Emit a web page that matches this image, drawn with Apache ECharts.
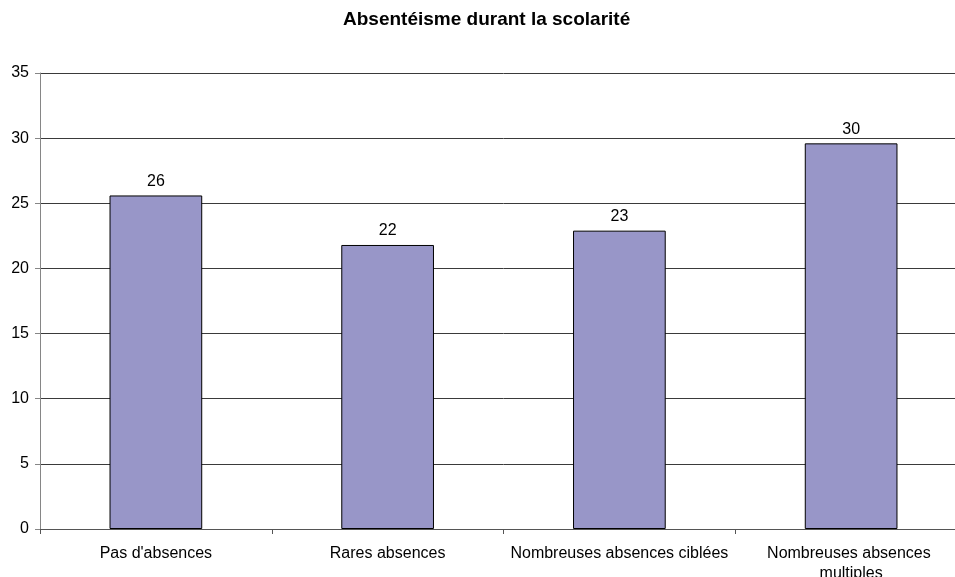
<!DOCTYPE html>
<html>
<head>
<meta charset="utf-8">
<script src="https://cdn.jsdelivr.net/npm/echarts@6/dist/echarts.min.js"></script>
<style>
  html, body { margin: 0; padding: 0; background: #fff; overflow: hidden; }
  /* the original plot runs past the right edge of the picture */
  #chart { width: 967px; height: 577px; }
</style>
</head>
<body>
<div id="chart"></div>
<script>
const titleText = 'Absentéisme durant la scolarité'
const categories = ['Pas d\'absences', 'Rares absences', 'Nombreuses absences ciblées', 'Nombreuses absences multiples']
const values = [25.6, 21.8, 22.9, 29.6]

const chartInst = echarts.init(document.getElementById('chart'))
const font = "'Liberation Sans', Arial, sans-serif"

const option = {
  animation: false,
  backgroundColor: '#fff',
  title: {
    text: titleText,
    left: 338,
    top: 5,
    textStyle: { fontFamily: font, fontSize: 19, fontWeight: 'bold', color: '#000' }
  },
  // labels may run off the bottom edge, as in the original
  grid: { left: 40, right: 0, top: 73, bottom: 48, outerBoundsMode: 'none', containLabel: false },
  xAxis: {
    type: 'category',
    data: categories,
    axisLine: { lineStyle: { color: '#555', width: 1 } },
    axisTick: { show: true, length: 5, lineStyle: { color: '#555' } },
    axisLabel: {
      interval: 0,
      margin: 15,
      width: 228,
      overflow: 'break',
      lineHeight: 20,
      fontFamily: font,
      fontSize: 16,
      color: '#000'
    }
  },
  yAxis: {
    type: 'value',
    min: 0,
    max: 35,
    interval: 5,
    axisLine: { show: true, lineStyle: { color: '#868686' } },
    axisTick: { show: true, length: 5, lineStyle: { color: '#868686' } },
    axisLabel: { margin: 11, fontFamily: font, fontSize: 16, color: '#000' },
    splitLine: { lineStyle: { color: '#3a3a3a', width: 1 } }
  },
  series: [
    {
      type: 'bar',
      data: values,
      barWidth: '40%',
      itemStyle: { color: '#9896c8', borderColor: '#000', borderWidth: 1 },
      label: {
        show: true,
        position: 'top',
        distance: 6,
        fontFamily: font,
        fontSize: 16,
        color: '#000',
        formatter: (p) => Math.round(p.value)
      }
    }
  ]
}

chartInst.setOption(option)
</script>
</body>
</html>
